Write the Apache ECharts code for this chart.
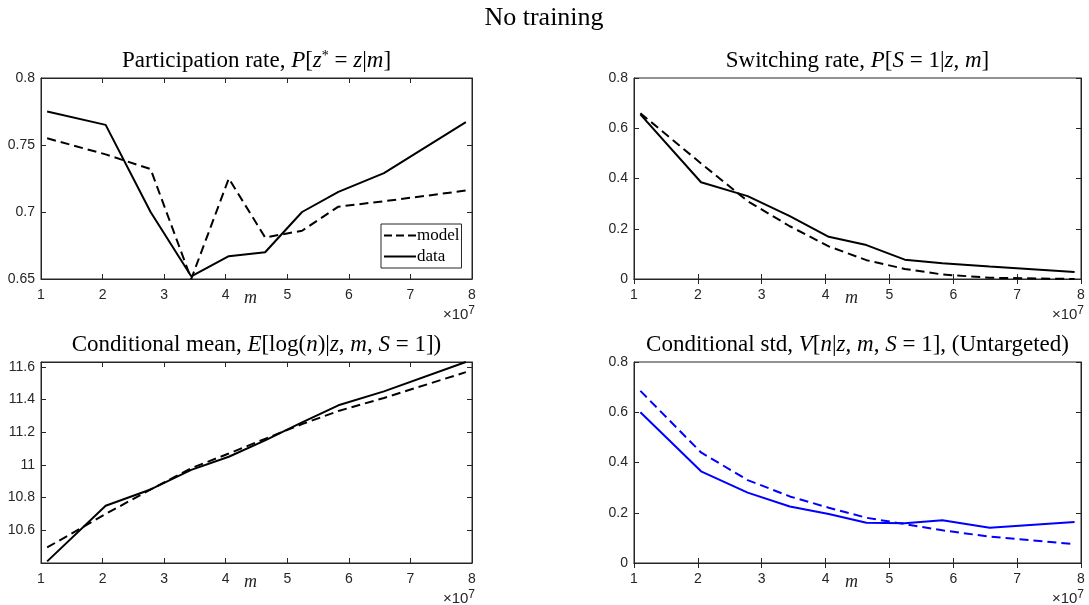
<!DOCTYPE html>
<html>
<head>
<meta charset="utf-8">
<script src="https://cdn.jsdelivr.net/npm/echarts@6/dist/echarts.min.js"></script>
<style>
  html, body { margin: 0; padding: 0; background: #fff; }
  #chart { width: 1089px; height: 605px; }
</style>
</head>
<body>
<div id="chart"></div>
<script>
  // m values (x 10^7)
  var mVals = [1.1, 2.05, 2.78, 3.44, 4.05, 4.64, 5.24, 5.83, 6.57, 7.9];

  // participation rate
  var partModel = [0.755, 0.743, 0.732, 0.650, 0.725, 0.681, 0.686, 0.704, 0.708, 0.716];
  var partData  = [0.775, 0.765, 0.700, 0.652, 0.667, 0.670, 0.700, 0.715, 0.729, 0.767];

  // switching rate
  var switchModel = [0.660, 0.460, 0.310, 0.210, 0.130, 0.075, 0.040, 0.018, 0.005, 0.000];
  var switchData  = [0.655, 0.385, 0.330, 0.250, 0.168, 0.135, 0.077, 0.063, 0.050, 0.028];

  // conditional mean of log(n)
  var meanModel = [10.495, 10.70, 10.85, 10.98, 11.07, 11.16, 11.25, 11.33, 11.41, 11.568];
  var meanData  = [10.41, 10.75, 10.85, 10.97, 11.05, 11.15, 11.26, 11.365, 11.45, 11.63];

  // conditional std
  var stdModel = [0.685, 0.440, 0.330, 0.265, 0.220, 0.180, 0.155, 0.130, 0.105, 0.075];
  var stdData  = [0.600, 0.365, 0.280, 0.225, 0.195, 0.160, 0.158, 0.170, 0.140, 0.163];

  function pairs(ys) {
    return mVals.map(function (x, i) { return [x, ys[i]]; });
  }

  var axisCol = '#262626';
  var serif = '"Liberation Serif", "DejaVu Serif", serif';
  var sans = '"Liberation Sans", Arial, sans-serif';

  // panel boxes
  var grids = [
    { left: 41, top: 78, width: 431, height: 201 },
    { left: 634, top: 78, width: 447, height: 201 },
    { left: 41, top: 362, width: 431, height: 201 },
    { left: 634, top: 362, width: 447, height: 201 }
  ];
  var yRanges = [
    { min: 0.65, max: 0.8, interval: 0.05 },
    { min: 0, max: 0.8, interval: 0.2 },
    { min: 10.4, max: 11.63, interval: 0.2 },
    { min: 0, max: 0.8, interval: 0.2 }
  ];

  var xAxes = [], yAxes = [];
  grids.forEach(function (g, i) {
    g.show = true;
    g.borderColor = axisCol;
    g.borderWidth = 1;
    g.backgroundColor = '#fff';
    xAxes.push({
      type: 'value', gridIndex: i, min: 1, max: 8, interval: 1, position: 'bottom',
      axisLine: { show: true, lineStyle: { color: axisCol, width: 1 } },
      axisTick: { inside: true, length: 5, lineStyle: { color: axisCol } },
      axisLabel: { color: axisCol, fontFamily: sans, fontSize: 14, margin: 9 },
      splitLine: { show: false }
    });
    // top x, ticks only
    xAxes.push({
      type: 'value', gridIndex: i, min: 1, max: 8, interval: 1, position: 'top',
      axisLine: { show: true, lineStyle: { color: axisCol, width: 1 } },
      axisTick: { inside: true, length: 5, lineStyle: { color: axisCol } },
      axisLabel: { show: false },
      splitLine: { show: false }
    });
    var r = yRanges[i];
    yAxes.push({
      type: 'value', gridIndex: i, min: r.min, max: r.max, interval: r.interval, position: 'left',
      axisLine: { show: true, lineStyle: { color: axisCol, width: 1 } },
      axisTick: { inside: true, length: 5, lineStyle: { color: axisCol } },
      axisLabel: {
        color: axisCol, fontFamily: sans, fontSize: 14, margin: 6,
        formatter: function (v) {
          if (i === 2 && (v < 10.5 || v > 11.62)) return '';
          return String(Math.round(v * 100) / 100);
        }
      },
      splitLine: { show: false }
    });
    yAxes.push({
      type: 'value', gridIndex: i, min: r.min, max: r.max, interval: r.interval, position: 'right',
      axisLine: { show: true, lineStyle: { color: axisCol, width: 1 } },
      axisTick: { inside: true, length: 5, lineStyle: { color: axisCol } },
      axisLabel: { show: false },
      splitLine: { show: false }
    });
  });

  function line(name, panel, ys, color, dashed) {
    return {
      name: name, type: 'line', xAxisIndex: panel * 2, yAxisIndex: panel * 2,
      data: pairs(ys), symbol: 'none', silent: true, animation: false,
      lineStyle: { color: color, width: 2, type: dashed ? [9, 5] : 'solid' },
      itemStyle: { color: color }
    };
  }

  var series = [
    line('model', 0, partModel, '#000', true),
    line('data', 0, partData, '#000', false),
    line('model', 1, switchModel, '#000', true),
    line('data', 1, switchData, '#000', false),
    line('model', 2, meanModel, '#000', true),
    line('data', 2, meanData, '#000', false),
    line('model', 3, stdModel, '#0000ff', true),
    line('data', 3, stdData, '#0000ff', false)
  ];

  var rich = {
    i: { fontFamily: serif, fontStyle: 'italic', fontSize: 23, color: '#000' },
    s: { fontFamily: serif, fontSize: 14, color: '#000', verticalAlign: 'top', padding: [0, 0, 10, 0] }
  };

  function txt(x, y, text, size, extra) {
    var st = {
      text: text, x: x, y: y, align: 'center', verticalAlign: 'middle',
      fontFamily: serif, fontSize: size, fill: '#000', rich: rich
    };
    if (extra) for (var k in extra) st[k] = extra[k];
    return { type: 'text', silent: true, style: st };
  }

  var subTitles = [
    'Participation rate, {i|P}[{i|z}{s|*} = {i|z}|{i|m}]',
    'Switching rate, {i|P}[{i|S} = 1|{i|z}, {i|m}]',
    'Conditional mean, {i|E}[log({i|n})|{i|z}, {i|m}, {i|S} = 1])',
    'Conditional std, {i|V}[{i|n}|{i|z}, {i|m}, {i|S} = 1], (Untargeted)'
  ];

  var graphics = [txt(544, 18, 'No training', 26)];
  grids.forEach(function (g, i) {
    var cx = g.left + g.width / 2;
    graphics.push(txt(cx, g.top - 17, subTitles[i], 23));
    graphics.push(txt(cx - 6, g.top + g.height + 19, 'm', 18, { fontStyle: 'italic', fill: '#262626' }));
    graphics.push({
      type: 'text', silent: true,
      style: {
        text: '×10{p|7}', x: g.left + g.width + 3, y: g.top + g.height + 36,
        align: 'right', verticalAlign: 'middle', fontFamily: sans, fontSize: 15, fill: '#262626',
        rich: { p: { fontFamily: sans, fontSize: 12, color: '#262626', verticalAlign: 'top', padding: [0, 0, 8, 0] } }
      }
    });
  });

  var chart = echarts.init(document.getElementById('chart'));
  chart.setOption({
    animation: false,
    backgroundColor: '#fff',
    grid: grids,
    xAxis: xAxes,
    yAxis: yAxes,
    series: series,
    legend: {
      data: [
        { name: 'model', icon: 'path://M0,0h8v2h-8z M12,0h8v2h-8z M24,0h8v2h-8z' },
        { name: 'data', icon: 'path://M0,0h32v2h-32z' }
      ],
      orient: 'vertical', left: 381, top: 224,
      itemWidth: 32, itemHeight: 2, itemGap: 4,
      padding: [3, 2, 3, 3],
      borderColor: axisCol, borderWidth: 1, backgroundColor: '#fff',
      selectedMode: false,
      textStyle: { fontFamily: serif, fontSize: 17, color: '#000', padding: [0, 0, 0, -4] }
    },
    graphic: graphics
  });
</script>
</body>
</html>
